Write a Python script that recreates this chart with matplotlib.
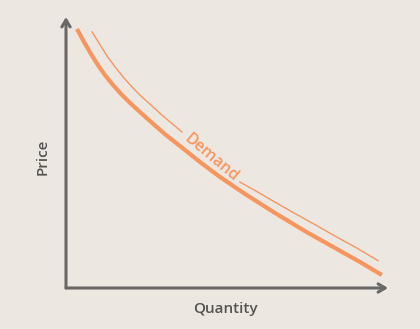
import matplotlib.pyplot as plt

plt.rcParams['font.family'] = ['Open Sans', 'DejaVu Sans']

# demand curve (thick)
qty = [3.4, 5.6, 7.8, 9.9, 12.1, 14.6, 17.1, 19.9, 23.0, 26.1, 30.7, 35.4, 41.6,
       47.8, 55.6, 64.9, 74.2, 83.5, 91.3, 98.1]
price = [95.6, 90.8, 86.3, 82.3, 78.6, 74.9, 71.6, 68.3, 64.9, 61.6, 56.8, 52.4, 46.5,
         41.0, 34.7, 27.7, 21.0, 14.8, 9.6, 4.8]

# thin label line, split around the "Demand" text
lab_q1 = [8.1, 10.6, 13.0, 15.5, 18.0, 20.5, 23.3, 26.4, 29.8, 32.9, 36.0]
lab_p1 = [94.5, 89.7, 85.2, 81.2, 77.5, 74.2, 70.8, 67.5, 63.8, 60.7, 57.6]
lab_q2 = [54.0, 58.7, 64.9, 71.1, 77.3, 83.5, 89.8, 96.9]
lab_p2 = [39.1, 36.0, 31.7, 27.5, 23.4, 19.2, 15.1, 10.1]

bg = '#ECE8E1'
orange = '#F7955E'
grey = '#6A6866'

fig = plt.figure(figsize=(4.2, 3.29), dpi=100, facecolor=bg)
ax = fig.add_axes([66 / 420, 41 / 329, 322 / 420, 271 / 329])
ax.set_facecolor(bg)
ax.set_xlim(0, 100)
ax.set_ylim(0, 100)
for s in ax.spines.values():
    s.set_visible(False)
ax.set_xticks([])
ax.set_yticks([])

# axes with arrow heads
arrow = dict(arrowstyle='->,head_length=0.5,head_width=0.3', color=grey, lw=2.2,
             shrinkA=0, shrinkB=0)
ax.annotate('', xy=(1, 0), xytext=(0, 0), xycoords='axes fraction', arrowprops=arrow,
            annotation_clip=False)
ax.annotate('', xy=(0, 1), xytext=(0, 0), xycoords='axes fraction', arrowprops=arrow,
            annotation_clip=False)

ax.plot(qty, price, color=orange, lw=3.0, solid_capstyle='butt',
        solid_joinstyle='round', clip_on=False)
ax.plot(lab_q1, lab_p1, color=orange, lw=1.0, solid_joinstyle='round', clip_on=False)
ax.plot(lab_q2, lab_p2, color=orange, lw=1.0, solid_joinstyle='round', clip_on=False)
ax.text(45.0, 48.0, 'Demand', color=orange, fontsize=11.5, fontweight='semibold',
        rotation=-40, rotation_mode='anchor', ha='center', va='center')

fig.text(43 / 420, 1 - 157 / 329, 'Price', rotation=90, ha='center', va='center',
         fontsize=11, fontweight='semibold', color='#555452')
fig.text(225 / 420, 1 - 309 / 329, 'Quantity', ha='center', va='center',
         fontsize=11, fontweight='semibold', color='#555452')

fig.savefig('out.png', dpi=100, facecolor=bg)
